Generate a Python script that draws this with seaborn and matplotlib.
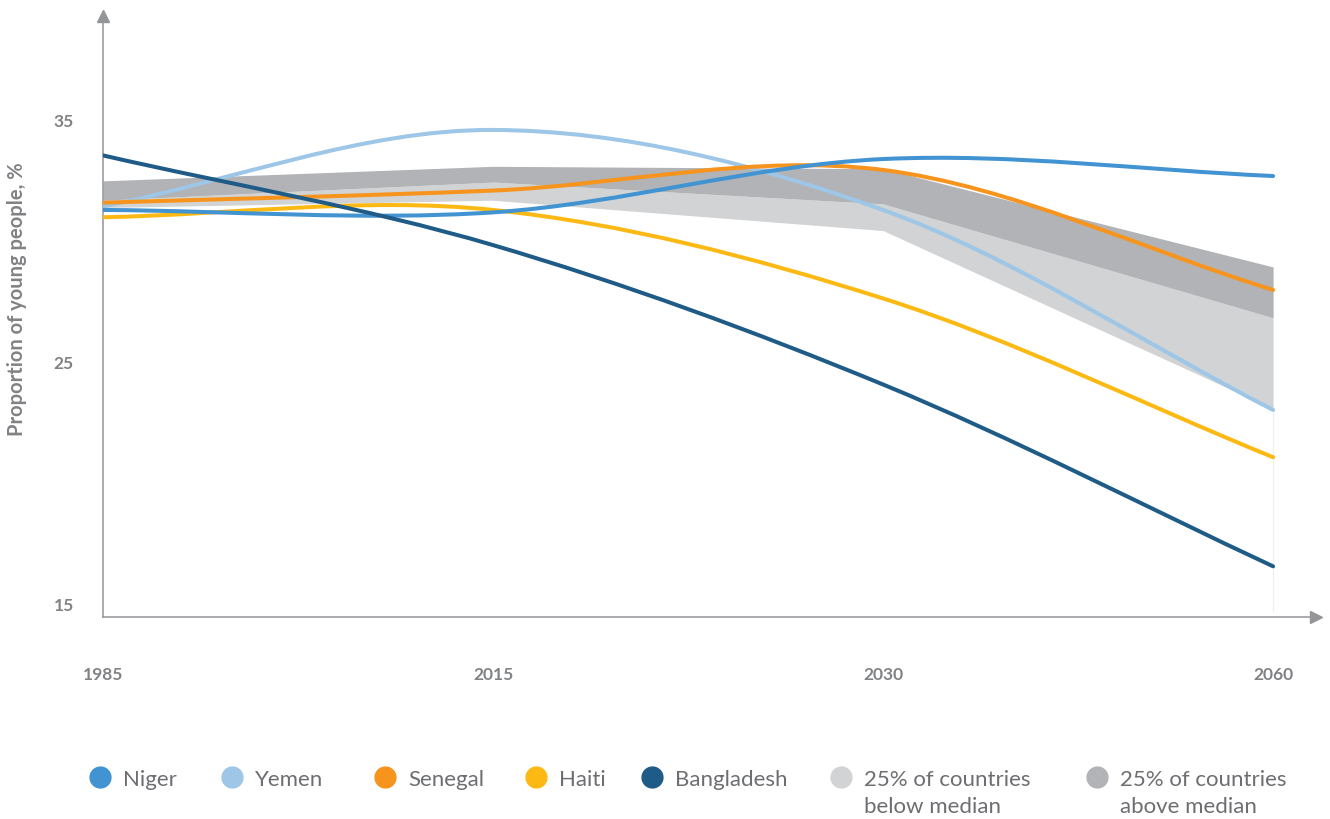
import numpy as np
import matplotlib
matplotlib.use("Agg")
import matplotlib.pyplot as plt
from matplotlib.path import Path
from matplotlib.patches import PathPatch
from matplotlib.lines import Line2D
import seaborn as sns

# Data
years = ["1985", "2015", "2030", "2060"]
x_pos = [0, 1, 2, 3]

niger = [31.25, 31.15, 33.35, 32.65]
yemen = [31.4, 34.55, 31.25, 23.0]
senegal = [31.55, 32.05, 32.9, 27.95]
haiti = [30.95, 31.25, 27.6, 21.05]
bangladesh = [33.5, 29.8, 24.05, 16.55]

# interquartile band around the median of all countries
band_low = [31.35, 31.65, 30.4, 23.05]
band_median = [31.65, 32.4, 31.5, 26.8]
band_high = [32.45, 33.05, 32.95, 28.9]

series_names = ["Niger", "Yemen", "Senegal", "Haiti", "Bangladesh"]
series_values = [niger, yemen, senegal, haiti, bangladesh]
series_colors = ["#4193d1", "#9dc6e7", "#f7941e", "#fdb913", "#1f5b87"]
band_light = "#d1d3d4"
band_dark = "#b1b3b6"
draw_order = ["Yemen", "Haiti", "Senegal", "Niger", "Bangladesh"]

sns.set_theme(style="white")
plt.rcParams["font.family"] = ["Lato", "DejaVu Sans"]

axis_grey = "#939598"
text_grey = "#808285"
legend_grey = "#6d6e71"

W, H = 1330, 820
fig = plt.figure(figsize=(W / 100, H / 100), dpi=100)
ax = fig.add_axes([103 / W, (H - 618) / H, 1213 / W, 601 / H])


def smooth_path(xs, ys):
    # cubic bezier segments through the points (catmull-rom style tangents)
    xs = np.asarray(xs, float)
    ys = np.asarray(ys, float)
    m = np.gradient(ys, xs)
    verts = [(xs[0], ys[0])]
    codes = [Path.MOVETO]
    for i in range(len(xs) - 1):
        h = xs[i + 1] - xs[i]
        verts += [(xs[i] + h / 3, ys[i] + m[i] * h / 3),
                  (xs[i + 1] - h / 3, ys[i + 1] - m[i + 1] * h / 3),
                  (xs[i + 1], ys[i + 1])]
        codes += [Path.CURVE4] * 3
    return Path(verts, codes)


# bands
ax.fill_between(x_pos, band_low, band_median, color=band_light, lw=0, zorder=1)
ax.fill_between(x_pos, band_median, band_high, color=band_dark, lw=0, zorder=1)

ax.set_xlim(0, 3.11)
ax.set_ylim(14.46, 39.25)

ax.vlines(x_pos[-1], ax.get_ylim()[0] + 0.2, band_low[-1], color="#eeeeee", lw=0.8, zorder=1)

# country lines
for name in draw_order:
    i = series_names.index(name)
    patch = PathPatch(smooth_path(x_pos, series_values[i]), facecolor="none",
                      edgecolor=series_colors[i], lw=2.9, capstyle="round",
                      joinstyle="round", zorder=3)
    ax.add_patch(patch)

# axes styling
for side in ["top", "right"]:
    ax.spines[side].set_visible(False)
for side in ["left", "bottom"]:
    ax.spines[side].set_color(axis_grey)
    ax.spines[side].set_linewidth(1.1)

ax.plot(0, 1, marker="^", color=axis_grey, markersize=9, transform=ax.transAxes,
        clip_on=False, zorder=5)
ax.plot(1, 0, marker=">", color=axis_grey, markersize=9, transform=ax.transAxes,
        clip_on=False, zorder=5)

ax.set_xticks(x_pos)
ax.set_xticklabels(years)
ax.set_yticks([15, 25, 35])
ax.tick_params(axis="x", length=0, pad=35, labelsize=12.5, labelcolor=text_grey)
ax.tick_params(axis="y", length=0, pad=21, labelsize=12.5, labelcolor=text_grey)
for lab in ax.get_xticklabels() + ax.get_yticklabels():
    lab.set_fontweight("bold")

ax.set_ylabel("Proportion of young people, %", fontsize=14.5, fontweight="bold",
              color=text_grey)
ax.yaxis.set_label_coords(-0.0625, 0.53)

# legend drawn by hand, so the two-line labels line up like the original
legend_names = series_names + ["25% of countries\nbelow median",
                               "25% of countries\nabove median"]
legend_colors = series_colors + [band_light, band_dark]
legend_x = [100, 232, 385, 536, 652, 841, 1097]
for lx, name, col in zip(legend_x, legend_names, legend_colors):
    fig.add_artist(Line2D([lx / W], [(H - 778) / H], marker="o", markersize=15,
                          color=col, linestyle="none", transform=fig.transFigure))
    fig.text((lx + 23) / W, (H - 770) / H, name, fontsize=16, color=legend_grey,
             va="top", ha="left", linespacing=1.45)

fig.savefig("out.png", dpi=100)
